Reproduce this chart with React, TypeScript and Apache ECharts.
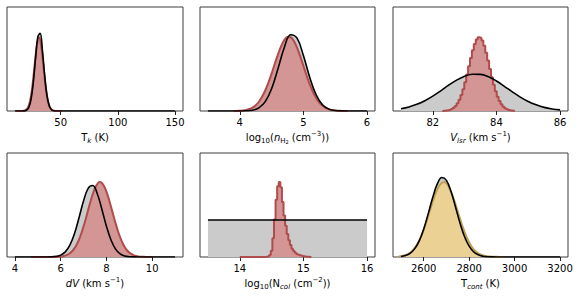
import React, { useEffect, useRef } from "react";
import * as echarts from "echarts";

// ---------- Panel 1: T_k ----------
const tkTicks = [50, 100, 150];
const tkPrior = [[10, 0], [12, 0], [14, 0], [16, 0], [18, 0.001], [20, 0.007], [22, 0.032], [24, 0.109], [26, 0.273], [28, 0.511], [30, 0.714], [32, 0.746], [34, 0.582], [36, 0.339], [38, 0.147], [40, 0.048], [42, 0.012], [44, 0.002], [46, 0], [48, 0], [50, 0], [150, 0]];
const tkPost = [[11, 0], [13, 0], [15, 0], [17, 0.001], [19, 0.006], [21, 0.026], [23, 0.087], [25, 0.218], [27, 0.42], [29, 0.62], [31, 0.71], [33, 0.62], [35, 0.42], [37, 0.218], [39, 0.087], [41, 0.026], [43, 0.006], [45, 0.001], [47, 0], [49, 0], [51, 0]];

// ---------- Panel 2: log10(n_H2) ----------
const nhTicks = [4, 5, 6];
const nhPrior = [[3.5, 0], [3.6, 0], [3.7, 0], [3.8, 0], [3.9, 0], [4.0, 0], [4.1, 0.002], [4.2, 0.008], [4.3, 0.03], [4.4, 0.09], [4.5, 0.214], [4.6, 0.406], [4.7, 0.611], [4.8, 0.733], [4.9, 0.7], [5.0, 0.533], [5.1, 0.323], [5.2, 0.156], [5.3, 0.06], [5.4, 0.018], [5.5, 0.005], [5.6, 0.001], [5.7, 0], [5.8, 0], [5.9, 0], [6.0, 0]];
const nhPost = [[3.9, 0.001], [3.95, 0.001], [4.0, 0.003], [4.05, 0.005], [4.1, 0.01], [4.15, 0.019], [4.2, 0.033], [4.25, 0.056], [4.3, 0.089], [4.35, 0.136], [4.4, 0.197], [4.45, 0.272], [4.5, 0.359], [4.55, 0.453], [4.6, 0.544], [4.65, 0.624], [4.7, 0.683], [4.75, 0.712], [4.8, 0.709], [4.85, 0.673], [4.9, 0.61], [4.95, 0.526], [5.0, 0.434], [5.05, 0.341], [5.1, 0.255], [5.15, 0.183], [5.2, 0.125], [5.25, 0.081], [5.3, 0.05], [5.35, 0.03], [5.4, 0.017], [5.45, 0.009], [5.5, 0.005], [5.55, 0.002], [5.6, 0.001], [5.65, 0], [5.7, 0]];

// ---------- Panel 3: V_lsr ----------
const vlTicks = [82, 84, 86];
const vlPrior = [[81.0, 0.022], [81.25, 0.039], [81.5, 0.064], [81.75, 0.099], [82.0, 0.143], [82.25, 0.194], [82.5, 0.248], [82.75, 0.297], [83.0, 0.335], [83.25, 0.354], [83.5, 0.352], [83.75, 0.329], [84.0, 0.288], [84.25, 0.237], [84.5, 0.184], [84.75, 0.134], [85.0, 0.091], [85.25, 0.059], [85.5, 0.035], [85.75, 0.02], [86.0, 0.011]];
const vlPost = [[82.3, 0.001], [82.36, 0.002], [82.42, 0.004], [82.48, 0.007], [82.54, 0.011], [82.6, 0.019], [82.66, 0.031], [82.72, 0.049], [82.78, 0.074], [82.84, 0.109], [82.9, 0.154], [82.96, 0.21], [83.02, 0.276], [83.08, 0.351], [83.14, 0.431], [83.2, 0.51], [83.26, 0.584], [83.32, 0.645], [83.38, 0.688], [83.44, 0.71], [83.5, 0.704], [83.56, 0.677], [83.62, 0.627], [83.68, 0.561], [83.74, 0.485], [83.8, 0.404], [83.86, 0.325], [83.92, 0.253], [83.98, 0.19], [84.04, 0.138], [84.1, 0.096], [84.16, 0.065], [84.22, 0.042], [84.28, 0.027], [84.34, 0.016], [84.4, 0.009], [84.46, 0.005], [84.52, 0.003], [84.58, 0.002]];

// ---------- Panel 4: dV ----------
const dvTicks = [4, 6, 8, 10];
const dvPrior = [[4.0, 0], [4.2, 0], [4.4, 0], [4.6, 0], [4.8, 0], [5.0, 0], [5.2, 0], [5.4, 0], [5.6, 0.001], [5.8, 0.006], [6.0, 0.018], [6.2, 0.049], [6.4, 0.114], [6.6, 0.224], [6.8, 0.377], [7.0, 0.54], [7.2, 0.66], [7.4, 0.687], [7.6, 0.609], [7.8, 0.46], [8.0, 0.296], [8.2, 0.163], [8.4, 0.076], [8.6, 0.03], [8.8, 0.01], [9.0, 0.003], [9.2, 0.001], [9.4, 0], [9.6, 0], [9.8, 0], [11.0, 0]];
const dvPost = [[4.7, 0], [5.2, 0], [5.6, 0], [5.8, 0.001], [5.9, 0.002], [6.0, 0.004], [6.1, 0.008], [6.2, 0.013], [6.3, 0.022], [6.4, 0.036], [6.5, 0.055], [6.6, 0.083], [6.7, 0.12], [6.8, 0.167], [6.9, 0.226], [7.0, 0.295], [7.1, 0.371], [7.2, 0.452], [7.3, 0.531], [7.4, 0.603], [7.5, 0.662], [7.6, 0.702], [7.7, 0.72], [7.8, 0.712], [7.9, 0.681], [8.0, 0.629], [8.1, 0.561], [8.2, 0.484], [8.3, 0.403], [8.4, 0.325], [8.5, 0.252], [8.6, 0.19], [8.7, 0.137], [8.8, 0.096], [8.9, 0.065], [9.0, 0.043], [9.1, 0.027], [9.2, 0.016], [9.3, 0.01], [9.4, 0.006], [9.5, 0.003], [9.6, 0.002], [9.7, 0.001], [9.8, 0], [10.0, 0]];

// ---------- Panel 5: log10(N_col) ----------
const ncTicks = [14, 15, 16];
const ncPrior = [[13.5, 0.356], [16.0, 0.356]];
const ncPost = [[14.0, 0], [14.4, 0], [14.425, 0.002], [14.45, 0.006], [14.475, 0.02], [14.5, 0.06], [14.525, 0.18], [14.55, 0.36], [14.575, 0.55], [14.6, 0.68], [14.625, 0.72], [14.65, 0.67], [14.675, 0.53], [14.7, 0.4], [14.725, 0.3], [14.75, 0.22], [14.775, 0.16], [14.8, 0.115], [14.825, 0.08], [14.85, 0.058], [14.875, 0.042], [14.9, 0.03], [14.925, 0.022], [14.95, 0.016], [14.975, 0.011], [15.0, 0.008], [15.025, 0.005], [15.05, 0.003], [15.075, 0.002], [15.1, 0.001], [15.125, 0]];

// ---------- Panel 6: T_cont ----------
const tcTicks = [2600, 2800, 3000, 3200];
const tcPrior = [[2500, 0.005], [2520, 0.014], [2540, 0.035], [2560, 0.078], [2580, 0.153], [2600, 0.268], [2620, 0.417], [2640, 0.574], [2660, 0.703], [2680, 0.764], [2700, 0.737], [2720, 0.632], [2740, 0.481], [2760, 0.325], [2780, 0.195], [2800, 0.104], [2820, 0.049], [2840, 0.021], [2860, 0.008], [2880, 0.003], [2900, 0.001], [2920, 0], [2940, 0], [3200, 0]];
const tcPost = [[2490, 0.004], [2510, 0.012], [2530, 0.028], [2550, 0.06], [2570, 0.118], [2590, 0.206], [2610, 0.326], [2630, 0.465], [2650, 0.597], [2670, 0.69], [2690, 0.72], [2710, 0.676], [2730, 0.573], [2750, 0.437], [2770, 0.3], [2790, 0.186], [2810, 0.104], [2830, 0.052], [2850, 0.024], [2870, 0.01], [2890, 0.005], [2910, 0.002], [2930, 0.001], [2950, 0]];

// ---------- Axis names (rich text) ----------
const names = [
  "{m|T}{si|k}{m| (K)}",
  "{m|log}{s|10}{m|(}{i|n}{s|H}{ss|2}{m| (cm}{p|−3}{m|))}",
  "{i|V}{si|lsr}{m| (km s}{p|−1}{m|)}",
  "{i|dV}{m| (km s}{p|−1}{m|)}",
  "{m|log}{s|10}{m|(N}{si|col}{m| (cm}{p|−2}{m|))}",
  "{m|T}{si|cont}{m| (K)}",
];

const FONT = "DejaVu Sans";
const GRAY = "#cbcbcb";
const RED_FILL = "#d49595";
const RED_EDGE = "#b04c4b";
const GOLD_FILL = "#ebd194";
const GOLD_EDGE = "#c0a052";

const layout = [
  { left: 7, top: 7, width: 176, height: 104 },
  { left: 200, top: 7, width: 175, height: 104 },
  { left: 393, top: 7, width: 175, height: 104 },
  { left: 7, top: 153, width: 176, height: 104 },
  { left: 200, top: 153, width: 175, height: 104 },
  { left: 393, top: 153, width: 175, height: 104 },
];

const panels = [
  { prior: tkPrior, post: tkPost, ticks: tkTicks, min: 3, max: 157, step: false, fill: RED_FILL, edge: RED_EDGE },
  { prior: nhPrior, post: nhPost, ticks: nhTicks, min: 3.375, max: 6.125, step: false, fill: RED_FILL, edge: RED_EDGE },
  { prior: vlPrior, post: vlPost, ticks: vlTicks, min: 80.75, max: 86.25, step: true, fill: RED_FILL, edge: RED_EDGE },
  { prior: dvPrior, post: dvPost, ticks: dvTicks, min: 3.65, max: 11.35, step: false, fill: RED_FILL, edge: RED_EDGE },
  { prior: ncPrior, post: ncPost, ticks: ncTicks, min: 13.375, max: 16.125, step: true, fill: RED_FILL, edge: RED_EDGE },
  { prior: tcPrior, post: tcPost, ticks: tcTicks, min: 2465, max: 3235, step: false, fill: GOLD_FILL, edge: GOLD_EDGE },
];

const rich = {
  m: { fontSize: 10, fontFamily: FONT, color: "#000", lineHeight: 14 },
  i: { fontSize: 10, fontFamily: FONT, fontStyle: "italic", color: "#000", lineHeight: 14 },
  s: { fontSize: 7, fontFamily: FONT, color: "#000", lineHeight: 8, verticalAlign: "bottom" },
  si: { fontSize: 7, fontFamily: FONT, fontStyle: "italic", color: "#000", lineHeight: 8, verticalAlign: "bottom" },
  ss: { fontSize: 5, fontFamily: FONT, color: "#000", lineHeight: 5, verticalAlign: "bottom" },
  p: { fontSize: 7, fontFamily: FONT, color: "#000", lineHeight: 8, verticalAlign: "top" },
};

export default function App() {
  const ref = useRef<HTMLDivElement>(null);
  useEffect(() => {
    if (!ref.current) return;
    const chart = echarts.init(ref.current, null, { renderer: "svg" });
    const grid = layout.map((l) => ({
      ...l,
      show: true,
      borderColor: "#3c3c3c",
      borderWidth: 1,
      backgroundColor: "transparent",
      containLabel: false,
    }));
    const xAxis = panels.map((p, i) => ({
      type: "value",
      gridIndex: i,
      min: p.min,
      max: p.max,
      axisLine: { show: false },
      splitLine: { show: false },
      axisTick: { show: true, length: 4, lineStyle: { color: "#222", width: 1 }, customValues: p.ticks },
      axisLabel: {
        customValues: p.ticks,
        fontSize: 10,
        fontFamily: FONT,
        color: "#000",
        margin: 6,
        formatter: (v: number) => String(v),
      },
      name: names[i],
      nameLocation: "middle",
      nameGap: 19,
      nameTextStyle: { fontFamily: FONT, fontSize: 10, color: "#000", rich },
    }));
    const yAxis = panels.map((p, i) => ({
      type: "value",
      gridIndex: i,
      min: 0,
      max: 1,
      show: false,
    }));
    const series: any[] = [];
    panels.forEach((p, i) => {
      series.push({
        type: "line",
        xAxisIndex: i,
        yAxisIndex: i,
        data: p.prior,
        smooth: 0.4,
        showSymbol: false,
        silent: true,
        lineStyle: { opacity: 0, width: 0 },
        areaStyle: { color: GRAY, opacity: 1 },
      });
      series.push({
        type: "line",
        xAxisIndex: i,
        yAxisIndex: i,
        data: p.post,
        step: p.step ? "middle" : false,
        smooth: p.step ? false : 0.3,
        showSymbol: false,
        silent: true,
        lineStyle: { color: p.edge, width: 2 },
        areaStyle: { color: p.fill, opacity: 1 },
      });
      series.push({
        type: "line",
        xAxisIndex: i,
        yAxisIndex: i,
        data: p.prior,
        smooth: 0.4,
        showSymbol: false,
        silent: true,
        lineStyle: { color: "#000", width: 1.6 },
      });
    });
    chart.setOption({
      animation: false,
      backgroundColor: "#fff",
      grid,
      xAxis,
      yAxis,
      series,
    });
    return () => chart.dispose();
  }, []);
  return (
    <div
      ref={ref}
      style={{ position: "absolute", left: 0, top: 0, width: 582, height: 301 }}
    />
  );
}
